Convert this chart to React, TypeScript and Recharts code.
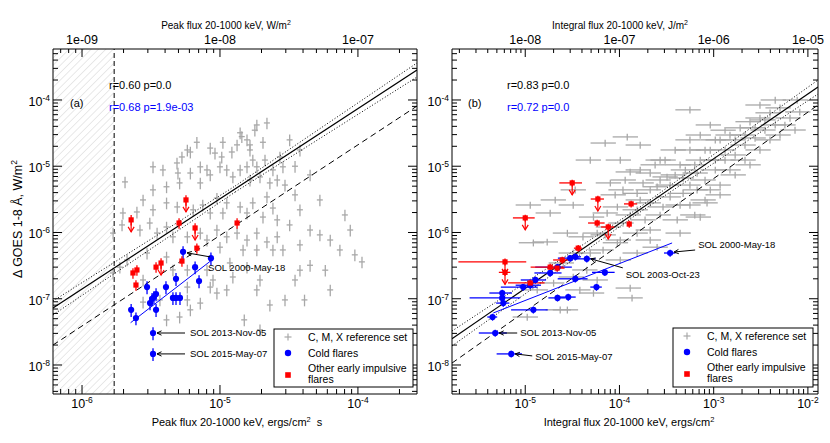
import React from 'react';
import { ScatterChart, Scatter, XAxis, YAxis, ErrorBar, ReferenceLine, ReferenceArea } from 'recharts';

const FONT = "'Liberation Sans', Arial, Helvetica, sans-serif";
const GREY = '#a8a8a8';
const BLUE = '#0000ff';
const RED = '#ff0000';

// ---------------- axis ranges ----------------
const peakRange = [6.16e-7, 2.68e-4]; // ergs/cm^2 s
const peakWRange = [6.16e-10, 2.68e-7]; // W/m^2
const intRange = [1.67e-6, 1.28e-2]; // ergs/cm^2
const intJRange = [1.67e-9, 1.28e-5]; // J/m^2
const goesRange = [3.65e-9, 5.88e-4]; // W/m^2
const peakThreshold = 1.71e-6;
const ERG_TO_SI = 1e-3; // ergs/cm^2 -> J/m^2

// ---------------- panel (a): peak flux vs GOES ----------------
const refPeak: number[][] = [
  [2.19e-5, 4.5e-5], [1.85e-5, 4.2e-5], [1.79e-5, 3.5e-5], [1.4e-5, 3.2e-5], [1.44e-5, 2.8e-5],
  [1.05e-5, 2.3e-5], [6.8e-6, 2.3e-5], [5.8e-6, 1.76e-5], [6.1e-6, 1.64e-5], [5.3e-6, 1.38e-5],
  [8.5e-6, 1.88e-5], [9.2e-6, 1.58e-5], [1.03e-5, 1.38e-5], [1.22e-5, 1.64e-5], [1.33e-5, 2.1e-5],
  [1.57e-5, 2.5e-5], [1.65e-5, 2.1e-5], [1.65e-5, 1.76e-5], [2.05e-5, 2.3e-5], [2.12e-5, 1.24e-5],
  [1.73e-5, 1.24e-5], [3.27e-6, 9.8e-6], [3.86e-6, 8.8e-6], [4.88e-6, 1.12e-5], [4.96e-6, 7.9e-6],
  [7.2e-6, 9.8e-6], [8.05e-6, 8.8e-6], [1.0e-5, 9.8e-6], [1.12e-5, 8.8e-6], [1.4e-5, 8.8e-6],
  [1.57e-5, 9.8e-6], [1.85e-5, 9.8e-6], [2.42e-5, 8.8e-6], [2.72e-5, 1.38e-5], [2.86e-5, 9.8e-6],
  [6.1e-6, 7.9e-6], [8.5e-6, 7.4e-6], [1.24e-5, 6.9e-6], [1.65e-5, 6.2e-6], [1.95e-5, 6.9e-6],
  [2.3e-5, 5.6e-6], [2.6e-5, 6.2e-6], [7.2e-6, 5.6e-6], [5.1e-6, 5.6e-6], [4.1e-6, 4.9e-6],
  [3.27e-6, 4.4e-6], [2.77e-6, 3.1e-6], [2.5e-6, 2.04e-6], [1.98e-6, 1.97e-6], [3.27e-6, 2.2e-6],
  [4.1e-6, 2.8e-6], [4.9e-6, 2.43e-6], [6.4e-6, 2.2e-6], [7.5e-6, 2.6e-6], [9.5e-6, 3.3e-6],
  [1.12e-5, 2.8e-6], [1.4e-5, 2.43e-6], [1.73e-5, 2.8e-6], [2.19e-5, 3.44e-6], [2.42e-5, 2.34e-6],
  [8.5e-6, 1.97e-6], [1.05e-5, 1.97e-6], [1.57e-5, 1.97e-6], [2.05e-5, 1.71e-6], [2.6e-5, 1.55e-6],
  [1.68e-6, 9.8e-7], [1.95e-6, 1.3e-6], [2.63e-6, 1.09e-6], [3.1e-6, 1.39e-6], [3.5e-6, 9.8e-7],
  [4.1e-6, 1.21e-6], [4.56e-6, 8.6e-7], [5.8e-6, 8.6e-7], [7.2e-6, 9.8e-7], [8.05e-6, 7.7e-7],
  [9.5e-6, 1.09e-6], [1.12e-5, 8.6e-7], [1.33e-5, 9.8e-7], [1.57e-5, 7.7e-7], [1.85e-5, 9.8e-7],
  [2.19e-5, 7.2e-7], [2.6e-5, 8.6e-7], [1.0e-5, 6.0e-7], [1.47e-5, 5.45e-7], [1.85e-5, 5.45e-7],
  [2.42e-5, 5.45e-7], [2.96e-6, 4.9e-7], [2.12e-6, 3.85e-7], [1.88e-6, 3.0e-7], [4.1e-6, 4.27e-7],
  [4.56e-6, 2.72e-7], [5.8e-6, 2.72e-7], [8.05e-6, 2.72e-7], [1.18e-5, 3.47e-7], [8.9e-6, 1.92e-7],
  [1.24e-5, 2.13e-7], [1.57e-5, 3.0e-7], [1.95e-5, 1.92e-7], [8.5e-6, 1.5e-7], [1.68e-6, 2.45e-7],
  [2.77e-6, 1.92e-7], [2.77e-6, 8.9e-8], [3.67e-6, 9.6e-8], [5.8e-6, 1.5e-7], [5.8e-6, 9.6e-8],
  [7.2e-6, 8.6e-8], [6.1e-6, 6.8e-8], [9.5e-6, 1.22e-7], [1.12e-5, 1.36e-7], [1.85e-5, 1.36e-7],
  [5.1e-6, 5.3e-8], [4.1e-6, 4.8e-8], [2.05e-6, 5.8e-6],
  [2.96e-5, 5.2e-6], [3.5e-5, 3.7e-6], [3.8e-5, 2.2e-6], [3.2e-5, 1.3e-6], [4.5e-5, 1.09e-6],
  [5.3e-5, 9.2e-7], [3.8e-5, 6.5e-7], [6.3e-5, 7.7e-7], [7.4e-5, 5.45e-7], [9.5e-5, 4.6e-7],
  [1.07e-4, 3.6e-7], [4.5e-5, 3.2e-7], [3.5e-5, 1.92e-7], [5.8e-5, 2.7e-7], [2.96e-5, 9.6e-8],
  [3.8e-5, 1.76e-5], [4.5e-5, 7.4e-6], [3.2e-5, 2.5e-5], [8.05e-5, 1.84e-6], [5.3e-5, 3.1e-6],
  [2.86e-5, 5.45e-7], [3.8e-5, 2.7e-7], [2.3e-5, 8.05e-8], [1.5e-5, 4.8e-8], [1.95e-5, 3.4e-8],
  [6.3e-5, 1.36e-7], [4.1e-5, 9.6e-8], [8.8e-5, 1.09e-6], [3.5e-5, 1.0e-5],
];
const coldPeak: number[][] = [
  [5.4e-6, 5.1e-7], [8.6e-6, 4.1e-7], [6.6e-6, 3.0e-7], [7.05e-6, 1.85e-7], [4.8e-6, 2.0e-7],
  [4.06e-6, 1.5e-7], [2.96e-6, 1.5e-7], [3.44e-6, 1.18e-7], [3.32e-6, 1.06e-7], [3.22e-6, 1.0e-7],
  [3.11e-6, 8.6e-8], [4.56e-6, 1.03e-7], [4.8e-6, 1.03e-7], [5.13e-6, 1.03e-7], [3.44e-6, 6.8e-8],
  [2.27e-6, 6.8e-8], [2.46e-6, 5.1e-8], [3.27e-6, 3.04e-8], [3.27e-6, 1.47e-8],
];
// [x, y, upperLimit]
const otherPeak: number[][] = [
  [2.27e-6, 1.55e-6, 1], [5.67e-6, 3.1e-6, 1], [5.05e-6, 1.39e-6, 0], [6.6e-6, 1.17e-6, 1],
  [1.33e-5, 1.39e-6, 0], [6.8e-6, 5.8e-7, 0], [5.3e-6, 3.7e-7, 0], [3.74e-6, 3.46e-7, 1],
  [3.44e-6, 3.0e-7, 0], [2.5e-6, 2.72e-7, 0], [2.34e-6, 2.45e-7, 0], [2.46e-6, 1.61e-7, 0],
];
const fitPeakSolid = [[6.16e-7, 7.24e-8], [2.68e-4, 2.84e-4]];
const fitPeakUpper = [[6.16e-7, 9.25e-8], [1.29e-5, 5.04e-6], [2.68e-4, 3.62e-4]];
const fitPeakLower = [[6.16e-7, 5.69e-8], [1.29e-5, 4.09e-6], [2.68e-4, 2.22e-4]];
const fitPeakDashed = [[6.16e-7, 2.0e-8], [2.68e-4, 8.1e-5]];
const fitPeakCold = [[2.25e-6, 4.35e-8], [8.6e-6, 3.75e-7]];
const annPeak = [[5.4e-6, 5.1e-7], [3.27e-6, 3.04e-8], [3.27e-6, 1.47e-8]];
const annPeakLabels = ['SOL 2000-May-18', 'SOL 2013-Nov-05', 'SOL 2015-May-07'];

// ---------------- panel (b): integral flux vs GOES ----------------
const refInt: number[][] = [
  [1.3e-4, 8.2e-6], [2.12e-4, 7.9e-6], [3.2e-4, 6.9e-6], [4.74e-4, 6.65e-6], [6.67e-4, 7.9e-6],
  [1.78e-4, 5.6e-6], [2.51e-4, 4.9e-6], [1.54e-4, 3.9e-6], [1.09e-4, 4.4e-6], [8.0e-5, 5.6e-6],
  [3.45e-4, 3.44e-6], [4.74e-4, 3.9e-6], [6.67e-4, 4.4e-6], [2.12e-4, 2.8e-6], [2.9e-4, 2.43e-6],
  [1.54e-4, 2.2e-6], [9.5e-5, 2.43e-6], [7.4e-5, 1.97e-6], [5.3e-5, 1.71e-6], [3.23e-5, 2.6e-6],
  [1.84e-5, 1.97e-6], [8.0e-5, 1.21e-6], [1.09e-4, 1.39e-6], [1.54e-4, 9.8e-7], [2.12e-4, 1.09e-6],
  [5.8e-5, 9.8e-7], [4.1e-5, 8.6e-7], [2.8e-5, 9.8e-7], [1.71e-5, 7.2e-7], [1.22e-5, 7.0e-7],
  [4.1e-4, 1.55e-6], [4.4e-4, 9.8e-7], [7.2e-4, 1.71e-6], [8.5e-4, 2.8e-6], [2.51e-4, 6.0e-7],
  [9.5e-5, 7.0e-7], [6.7e-5, 5.45e-7], [4.9e-5, 4.9e-7], [3.23e-5, 4.9e-7], [1.54e-4, 4.9e-7],
  [1.02e-4, 3.85e-7], [2.53e-5, 3.47e-7], [4.5e-5, 2.72e-7], [3.23e-5, 2.13e-7], [5.8e-5, 1.92e-7],
  [2.0e-5, 1.73e-7], [1.34e-5, 1.36e-7], [3.8e-5, 1.36e-7], [1.3e-4, 1.45e-7], [5.3e-5, 1.22e-7],
  [1.36e-4, 1.03e-7], [2.35e-5, 6.8e-8], [2.8e-5, 6.8e-8], [1.05e-5, 5.3e-8],
  [7.2e-4, 1.24e-5], [9.2e-4, 1.76e-5], [1.17e-3, 2.5e-5], [1.49e-3, 2.96e-5], [1.91e-3, 3.8e-5],
  [2.43e-3, 4.7e-5], [3.1e-3, 5.35e-5], [3.96e-3, 6.4e-5], [5.06e-3, 7.6e-5], [6.46e-3, 5.35e-5],
  [2.15e-3, 2.09e-5], [2.75e-3, 2.67e-5], [3.5e-3, 3.52e-5], [1.69e-3, 1.48e-5], [1.32e-3, 1.24e-5],
  [1.04e-3, 8.8e-6], [5.6e-4, 1.76e-5], [4.4e-4, 1.05e-5], [7.2e-4, 2.96e-5], [5.6e-4, 2.5e-5],
  [9.2e-4, 4.2e-5], [3.1e-3, 8.4e-5], [4.5e-3, 1.0e-4], [5.7e-3, 4.2e-5], [7.3e-3, 3.52e-5],
  [3.9e-4, 1.76e-5], [2.7e-4, 1.24e-5], [1.17e-3, 5.2e-6], [1.69e-3, 7.4e-6], [2.43e-3, 1.05e-5],
  [3.96e-3, 2.5e-5], [1.66e-4, 2.09e-5], [1.02e-4, 1.24e-5], [7.05e-5, 2.24e-5], [4.9e-5, 1.24e-5],
  [3.39e-5, 4.4e-6], [2.08e-5, 3.1e-6], [1.13e-5, 2.6e-6], [5.6e-4, 7.1e-5], [8.2e-3, 6.6e-5],
  [7.7e-3, 1.0e-4], [1.21e-4, 2.77e-5],
  [1.66e-4, 8.8e-6], [2.39e-4, 1.05e-5], [3.05e-4, 1.24e-5], [3.9e-4, 7.4e-6], [5.6e-4, 5.2e-6],
  [8.1e-4, 6.2e-6], [1.04e-3, 1.24e-5], [1.32e-3, 1.76e-5], [1.69e-3, 2.5e-5], [2.15e-3, 2.96e-5],
  [2.75e-3, 3.8e-5], [3.5e-3, 5.0e-5], [4.5e-3, 4.2e-5], [2.12e-4, 4.4e-6], [2.7e-4, 6.2e-6],
  [3.45e-4, 5.2e-6], [5.0e-4, 8.8e-6], [6.3e-4, 1.05e-5], [8.1e-4, 1.76e-5], [1.04e-3, 2.5e-5],
  [1.32e-3, 3.5e-5], [5.6e-4, 2.6e-6], [8.1e-4, 3.1e-6], [1.17e-3, 3.7e-6], [2.7e-4, 1.84e-6],
  [1.87e-4, 1.55e-6], [1.3e-4, 1.84e-6], [9.0e-5, 3.7e-6], [1.15e-4, 6.2e-6], [1.66e-4, 3.1e-6],
  [4.4e-4, 2.6e-6], [6.3e-4, 1.84e-6], [9.2e-4, 4.4e-6], [1.49e-3, 8.8e-6], [2.15e-3, 1.24e-5],
  [3.1e-3, 1.76e-5], [5.06e-3, 2.96e-5], [1.02e-4, 7.7e-7], [7.05e-5, 9.2e-7], [2.12e-4, 7.7e-7],
];
// [x, y, relative x error]
const coldInt: number[][] = [
  [3.0e-5, 4.1e-7, 0.26], [3.4e-5, 4.3e-7, 0.15], [4.5e-5, 4.0e-7, 0.24], [2.2e-5, 3.0e-7, 0.42],
  [1.84e-5, 2.45e-7, 0.32], [7.0e-5, 2.5e-7, 0.27], [3.4e-5, 2.0e-7, 0.35], [1.28e-5, 1.92e-7, 0.3],
  [1.13e-5, 1.6e-7, 0.3], [9.5e-6, 1.5e-7, 0.42], [5.7e-5, 1.5e-7, 0.14], [5.7e-6, 1.22e-7, 0.27],
  [5.7e-6, 1.03e-7, 0.55], [5.85e-6, 8.6e-8, 0.16], [2.2e-5, 1.03e-7, 0.2], [2.86e-5, 1.06e-7, 0.2],
  [1.22e-5, 6.8e-8, 0.42], [4.5e-6, 5.3e-8, 0.12], [4.8e-6, 3.04e-8, 0.33], [7.1e-6, 1.47e-8, 0.3],
  [3.45e-4, 4.9e-7, 0.14],
];
// [x, y, relative x error, upperLimit]
const otherInt: number[][] = [
  [3.15e-5, 5.6e-6, 0.27, 1], [5.9e-5, 3.2e-6, 0.16, 1], [1.33e-4, 2.7e-6, 0.16, 0],
  [5.8e-5, 1.39e-6, 0.2, 0], [1.27e-4, 1.34e-6, 0.05, 0], [7.6e-5, 1.21e-6, 0.16, 1],
  [1.0e-5, 1.66e-6, 0.26, 1], [3.65e-5, 5.8e-7, 0.1, 0], [2.47e-5, 3.85e-7, 0.2, 0],
  [6.1e-6, 3.6e-7, 0.68, 1], [6.1e-6, 2.5e-7, 0.14, 1], [1.84e-5, 3.0e-7, 0.38, 0],
  [2.18e-5, 2.9e-7, 0.2, 0], [1.13e-5, 1.73e-7, 0.42, 0],
];
const fitIntSolid = [[1.67e-6, 2.49e-8], [1.28e-2, 1.57e-4]];
const fitIntUpper = [[1.67e-6, 3.26e-8], [1.66e-4, 2.43e-6], [1.28e-2, 2.0e-4]];
const fitIntLower = [[1.67e-6, 1.94e-8], [1.66e-4, 2.04e-6], [1.28e-2, 1.23e-4]];
const fitIntDashed = [[1.67e-6, 1.07e-8], [1.28e-2, 8.4e-5]];
const fitIntCold = [[4.58e-6, 6.1e-8], [3.62e-4, 6.95e-7]];
const annInt = [[4.5e-5, 4.0e-7], [3.45e-4, 4.9e-7], [4.8e-6, 3.04e-8], [7.1e-6, 1.47e-8]];
const annIntLabels = ['SOL 2003-Oct-23', 'SOL 2000-May-18', 'SOL 2013-Nov-05', 'SOL 2015-May-07'];

// annotation layout (pixel offsets of label text / arrow from target point)
const annPeakLayout = [
  { tx: 25, ty: 16, ax: 27, ay: 5, hx: 4, hy: 1 },
  { tx: 37, ty: 0, ax: 32, ay: 0, hx: 4, hy: 0 },
  { tx: 37, ty: 0, ax: 32, ay: 0, hx: 4, hy: 0 },
];
const annIntLayout = [
  { tx: 39, ty: 16, ax: 36, ay: 9, hx: 4, hy: 0 },
  { tx: 28, ty: -8, ax: 25, ay: -3, hx: 4, hy: -1 },
  { tx: 25, ty: 0, ax: 22, ay: 0, hx: 4, hy: 0 },
  { tx: 24, ty: 3, ax: 21, ay: 2, hx: 4, hy: 0 },
];

// ---------------- helpers ----------------
const rel = (v: number, r: number) => [v * r, v * r];
const isMajor = (v: number) => Math.abs(Math.log10(v) - Math.round(Math.log10(v))) < 1e-6;
const logTicks = (range: number[]) => {
  const out: number[] = [];
  const e0 = Math.floor(Math.log10(range[0]));
  const e1 = Math.floor(Math.log10(range[1]));
  for (let e = e0; e <= e1; e++) {
    for (let m = 1; m <= 9; m++) {
      const v = Number((m * Math.pow(10, e)).toPrecision(6));
      if (v >= range[0] && v <= range[1]) out.push(v);
    }
  }
  return out;
};
const expStr = (v: number) => String(Math.round(Math.log10(v)));
const eStr = (v: number) => {
  const e = Math.round(Math.log10(v));
  return `1e${e < 0 ? '-' : '+'}${String(Math.abs(e)).padStart(2, '0')}`;
};

const TICK_FS = 12.5;
const SUP_FS = 8.5;
const MAJ = 9;
const MIN = 5;

const tickBottom = (p: any) => {
  const { x, y, payload } = p;
  const v = payload.value;
  const M = isMajor(v);
  return (
    <g>
      <line x1={x} x2={x} y1={y} y2={y - (M ? MAJ : MIN)} stroke="#000" strokeWidth={1} />
      {M && (
        <text x={x} y={y + 14} textAnchor="middle" fontSize={TICK_FS} fontFamily={FONT} fill="#000">
          10<tspan dy={-5} fontSize={SUP_FS}>{expStr(v)}</tspan>
        </text>
      )}
    </g>
  );
};
const tickTop = (p: any) => {
  const { x, y, payload } = p;
  const v = payload.value;
  const M = isMajor(v);
  return (
    <g>
      <line x1={x} x2={x} y1={y} y2={y + (M ? MAJ - 1 : MIN - 1)} stroke="#000" strokeWidth={1} />
      {M && (
        <text x={x} y={y - 5} textAnchor="middle" fontSize={TICK_FS} fontFamily={FONT} fill="#000">
          {eStr(v)}
        </text>
      )}
    </g>
  );
};
const tickLeft = (p: any) => {
  const { x, y, payload } = p;
  const v = payload.value;
  const M = isMajor(v);
  return (
    <g>
      <line x1={x} x2={x + (M ? MAJ : MIN)} y1={y} y2={y} stroke="#000" strokeWidth={1} />
      {M && (
        <text x={x - 3} y={y + 6} textAnchor="end" fontSize={TICK_FS} fontFamily={FONT} fill="#000">
          10<tspan dy={-5} fontSize={SUP_FS}>{expStr(v)}</tspan>
        </text>
      )}
    </g>
  );
};
const tickRight = (p: any) => {
  const { x, y, payload } = p;
  const M = isMajor(payload.value);
  return <line x1={x} x2={x - (M ? MAJ : MIN)} y1={y} y2={y} stroke="#000" strokeWidth={1} />;
};

const noShape = () => <g />;
const blueShape = (p: any) => <circle cx={p.cx} cy={p.cy} r={3.1} fill={BLUE} />;
const redShape = (p: any) => {
  const { cx, cy, payload } = p;
  return (
    <g>
      <rect x={cx - 2.6} y={cy - 2.6} width={5.2} height={5.2} fill={RED} />
      {payload.lim ? (
        <g stroke={RED} strokeWidth={1.2} fill="none">
          <line x1={cx} y1={cy} x2={cx} y2={cy + 12} />
          <polyline points={`${cx - 3},${cy + 7} ${cx},${cy + 12} ${cx + 3},${cy + 7}`} />
        </g>
      ) : null}
    </g>
  );
};
const annShape = (p: any) => {
  const { cx, cy, payload: a } = p;
  const x0 = cx + a.ax, y0 = cy + a.ay, x1 = cx + a.hx, y1 = cy + a.hy;
  const ang = Math.atan2(y1 - y0, x1 - x0);
  const L = 5, w = 0.45;
  const pA = `${x1 - L * Math.cos(ang - w)},${y1 - L * Math.sin(ang - w)}`;
  const pB = `${x1 - L * Math.cos(ang + w)},${y1 - L * Math.sin(ang + w)}`;
  return (
    <g>
      <line x1={x0} y1={y0} x2={x1} y2={y1} stroke="#000" strokeWidth={1} />
      <polyline points={`${pA} ${x1},${y1} ${pB}`} stroke="#000" strokeWidth={1} fill="none" />
      <text x={cx + a.tx} y={cy + a.ty + 3.4} fontSize={9.5} fontFamily={FONT} fill="#000">{a.label}</text>
    </g>
  );
};

// ---------------- build series ----------------
const refPeakData = refPeak.map(([x, y]) => ({ x, y, ex: rel(x, 0.05), ey: rel(y, 0.2) }));
const refPeakSI = refPeak.map(([x, y]) => ({ x: x * ERG_TO_SI, y }));
const coldPeakData = coldPeak.map(([x, y]) => ({ x, y, ex: rel(x, 0.03), ey: rel(y, 0.22) }));
const otherPeakData = otherPeak.map(([x, y, lim]) => ({ x, y, lim, ex: rel(x, 0.03), ey: rel(y, 0.18) }));
const annPeakData = annPeak.map(([x, y], i) => ({ x, y, label: annPeakLabels[i], ...annPeakLayout[i] }));

const refIntData = refInt.map(([x, y]) => ({ x, y, ex: rel(x, 0.3), ey: rel(y, 0.12) }));
const refIntSI = refInt.map(([x, y]) => ({ x: x * ERG_TO_SI, y }));
const coldIntData = coldInt.map(([x, y, r]) => ({ x, y, ex: rel(x, r), ey: rel(y, 0.12) }));
const otherIntData = otherInt.map(([x, y, r, lim]) => ({ x, y, lim, ex: rel(x, r), ey: rel(y, 0.12) }));
const annIntData = annInt.map(([x, y], i) => ({ x, y, label: annIntLabels[i], ...annIntLayout[i] }));

const segs = (pts: number[][], key: string, stroke: string, dash?: string, sw = 1) =>
  pts.slice(1).map((p, i) => (
    <ReferenceLine
      key={`${key}${i}`}
      xAxisId="b"
      yAxisId="l"
      segment={[{ x: pts[i][0], y: pts[i][1] }, { x: p[0], y: p[1] }]}
      stroke={stroke}
      strokeWidth={sw}
      strokeDasharray={dash}
      ifOverflow="hidden"
    />
  ));

const axes = (xRange: number[], topRange: number[], leftW: number, rightW: number, siData: any[]) => [
  <XAxis key="xb" xAxisId="b" dataKey="x" type="number" scale="log" domain={xRange} allowDataOverflow
    ticks={logTicks(xRange)} interval={0} tickSize={0} tickMargin={0} height={49}
    axisLine={{ stroke: '#000' }} tickLine={false} tick={tickBottom} />,
  <XAxis key="xt" xAxisId="t" dataKey="x" orientation="top" type="number" scale="log" domain={topRange} allowDataOverflow
    ticks={logTicks(topRange)} interval={0} tickSize={0} tickMargin={0} height={49}
    axisLine={{ stroke: '#000' }} tickLine={false} tick={tickTop} />,
  <YAxis key="yl" yAxisId="l" dataKey="y" type="number" scale="log" domain={goesRange} allowDataOverflow
    ticks={logTicks(goesRange)} interval={0} tickSize={0} tickMargin={0} width={leftW}
    axisLine={{ stroke: '#000' }} tickLine={false} tick={tickLeft} />,
  <YAxis key="yr" yAxisId="r" dataKey="y" orientation="right" type="number" scale="log" domain={goesRange} allowDataOverflow
    ticks={logTicks(goesRange)} interval={0} tickSize={0} tickMargin={0} width={rightW}
    axisLine={{ stroke: '#000' }} tickLine={false} tick={tickRight} />,
  <Scatter key="si" xAxisId="t" yAxisId="r" data={siData} isAnimationActive={false} shape={noShape} />,
];

const errBars = (color: string, key: string) => [
  <ErrorBar key={`${key}x`} dataKey="ex" direction="x" width={0} stroke={color} strokeWidth={1.3} isAnimationActive={false} />,
  <ErrorBar key={`${key}y`} dataKey="ey" direction="y" width={0} stroke={color} strokeWidth={1.3} isAnimationActive={false} />,
];

function PanelA() {
  return (
    <ScatterChart width={420} height={443} margin={{ top: 0, right: 0, bottom: 0, left: 0 }}>
      {axes(peakRange, peakWRange, 53, 3, refPeakSI)}
      <ReferenceArea xAxisId="b" yAxisId="l" x1={peakRange[0]} x2={peakThreshold} fill="url(#hatch)"
        fillOpacity={1} stroke="none" ifOverflow="hidden" />
      <ReferenceLine xAxisId="b" yAxisId="l" x={peakThreshold} stroke="#000" strokeDasharray="5 3" ifOverflow="hidden" />
      <Scatter xAxisId="b" yAxisId="l" data={refPeakData} shape={noShape} isAnimationActive={false}>
        {errBars(GREY, 'g')}
      </Scatter>
      {segs(fitPeakSolid, 'ps', '#000', undefined, 1.2)}
      {segs(fitPeakUpper, 'pu', '#000', '1 2')}
      {segs(fitPeakLower, 'pl', '#000', '1 2')}
      {segs(fitPeakDashed, 'pd', '#000', '6 4')}
      {segs(fitPeakCold, 'pc', BLUE)}
      <Scatter xAxisId="b" yAxisId="l" data={coldPeakData} shape={blueShape} isAnimationActive={false}>
        {errBars(BLUE, 'c')}
      </Scatter>
      <Scatter xAxisId="b" yAxisId="l" data={otherPeakData} shape={redShape} isAnimationActive={false}>
        {errBars(RED, 'o')}
      </Scatter>
      <Scatter xAxisId="b" yAxisId="l" data={annPeakData} shape={annShape} isAnimationActive={false} />
    </ScatterChart>
  );
}

function PanelB() {
  return (
    <ScatterChart width={410} height={443} margin={{ top: 0, right: 0, bottom: 0, left: 0 }}>
      {axes(intRange, intJRange, 32, 12, refIntSI)}
      <Scatter xAxisId="b" yAxisId="l" data={refIntData} shape={noShape} isAnimationActive={false}>
        {errBars(GREY, 'g')}
      </Scatter>
      {segs(fitIntSolid, 'is', '#000', undefined, 1.2)}
      {segs(fitIntUpper, 'iu', '#000', '1 2')}
      {segs(fitIntLower, 'il', '#000', '1 2')}
      {segs(fitIntDashed, 'id', '#000', '6 4')}
      {segs(fitIntCold, 'ic', BLUE)}
      <Scatter xAxisId="b" yAxisId="l" data={coldIntData} shape={blueShape} isAnimationActive={false}>
        {errBars(BLUE, 'c')}
      </Scatter>
      <Scatter xAxisId="b" yAxisId="l" data={otherIntData} shape={redShape} isAnimationActive={false}>
        {errBars(RED, 'o')}
      </Scatter>
      <Scatter xAxisId="b" yAxisId="l" data={annIntData} shape={annShape} isAnimationActive={false} />
    </ScatterChart>
  );
}

const LegendBox = ({ x, y, w, h }: { x: number; y: number; w: number; h: number }) => {
  const mx = x + 14;
  const tx = x + 34;
  return (
    <g>
      <rect x={x} y={y} width={w} height={h} fill="#fff" stroke="#000" strokeWidth={1} />
      <line x1={mx - 3.5} x2={mx + 3.5} y1={y + 8} y2={y + 8} stroke={GREY} strokeWidth={1.2} />
      <line x1={mx} x2={mx} y1={y + 4.5} y2={y + 11.5} stroke={GREY} strokeWidth={1.2} />
      <text x={tx} y={y + 11.5} fontSize={10.5}>C, M, X reference set</text>
      <circle cx={mx} cy={y + 24} r={3.2} fill={BLUE} />
      <text x={tx} y={y + 27.5} fontSize={10.5}>Cold flares</text>
      <rect x={mx - 2.8} y={y + 43.2} width={5.6} height={5.6} fill={RED} />
      <text x={tx} y={y + 42.5} fontSize={10.5}>Other early impulsive</text>
      <text x={tx} y={y + 54} fontSize={10.5}>flares</text>
    </g>
  );
};

export default function App() {
  return (
    <div style={{ position: 'absolute', left: 0, top: 0, width: 830, height: 443, background: '#fff', fontFamily: FONT }}>
      <svg width={0} height={0} style={{ position: 'absolute' }}>
        <defs>
          <pattern id="hatch" patternUnits="userSpaceOnUse" width={5.2} height={5.2} patternTransform="rotate(45)">
            <line x1={0} y1={0} x2={0} y2={5.2} stroke="#c8c8c8" strokeWidth={0.8} />
          </pattern>
        </defs>
      </svg>
      <div style={{ position: 'absolute', left: 0, top: 0 }}>
        <PanelA />
      </div>
      <div style={{ position: 'absolute', left: 420, top: 0 }}>
        <PanelB />
      </div>
      <svg width={830} height={443} style={{ position: 'absolute', left: 0, top: 0, pointerEvents: 'none' }}
        fontFamily={FONT} fill="#000">
        <text x={226} y={28.5} fontSize={10} textAnchor="middle">
          Peak flux 20-1000 keV, W/m<tspan dy={-4} fontSize={7}>2</tspan>
        </text>
        <text x={237} y={426} fontSize={11} textAnchor="middle">
          Peak flux 20-1000 keV, ergs/cm<tspan dy={-4.5} fontSize={7.5}>2</tspan><tspan dy={4.5}>{'\u00a0 s'}</tspan>
        </text>
        <text transform="translate(22,219) rotate(-90)" fontSize={12.5} textAnchor="middle">
          Δ GOES 1-8 Å, W/m<tspan dy={-5} fontSize={8.5}>2</tspan>
        </text>
        <text x={70} y={107} fontSize={11}>(a)</text>
        <text x={109} y={89} fontSize={11}>r=0.60 p=0.0</text>
        <text x={109} y={111} fontSize={11} fill={BLUE}>r=0.68 p=1.9e-03</text>
        <text x={620} y={28.5} fontSize={10} textAnchor="middle">
          Integral flux 20-1000 keV, J/m<tspan dy={-4} fontSize={7}>2</tspan>
        </text>
        <text x={629} y={426} fontSize={11} textAnchor="middle">
          Integral flux 20-1000 keV, ergs/cm<tspan dy={-4.5} fontSize={7.5}>2</tspan>
        </text>
        <text x={468} y={107} fontSize={11}>(b)</text>
        <text x={507} y={89} fontSize={11}>r=0.83 p=0.0</text>
        <text x={507} y={111} fontSize={11} fill={BLUE}>r=0.72 p=0.0</text>
        <LegendBox x={274} y={329} w={139} h={58} />
        <LegendBox x={673} y={328} w={140} h={59} />
      </svg>
    </div>
  );
}
